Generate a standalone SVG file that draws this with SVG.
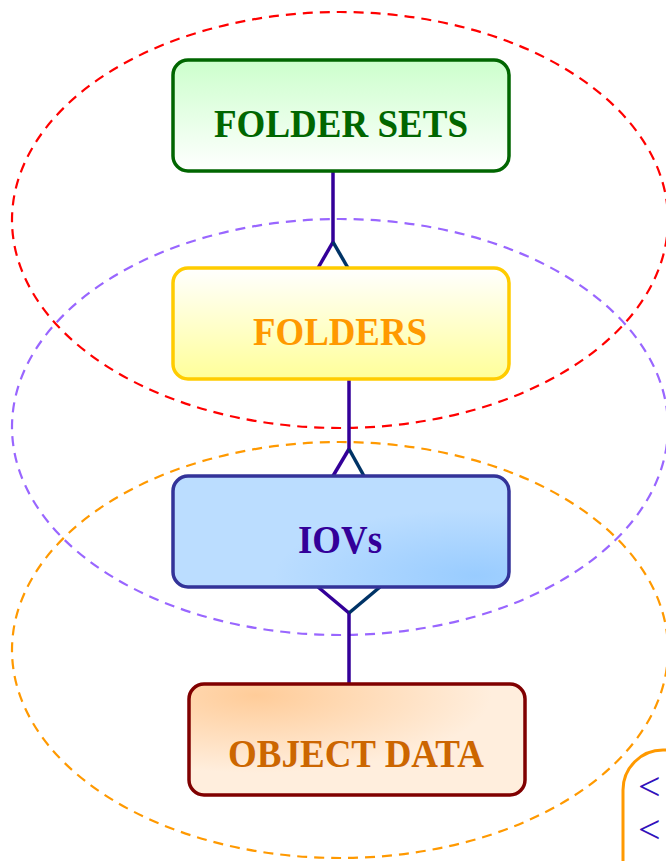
<svg xmlns="http://www.w3.org/2000/svg" width="666" height="861" viewBox="0 0 666 861">
<style>
.lbl{font-family:"Liberation Serif","Times New Roman",serif;font-weight:bold;font-size:40px;text-anchor:start}
.ell{fill:none;stroke-width:2.2;stroke-dasharray:10 7}
.box{stroke-width:3.5}
.conn{stroke-width:3.5;fill:none;stroke-linecap:butt}
.code{font-family:"Liberation Serif","Times New Roman",serif;font-size:40px;fill:#3311bb}
</style>
<defs>
<linearGradient id="gGreen" x1="0" y1="0" x2="0" y2="1"><stop offset="0" stop-color="#ccffcc"/><stop offset="1" stop-color="#ffffff"/></linearGradient>
<linearGradient id="gYellow" x1="0" y1="0" x2="0" y2="1"><stop offset="0" stop-color="#ffffff"/><stop offset="1" stop-color="#ffff99"/></linearGradient>
<radialGradient id="gBlue" cx="0.9" cy="0.9" r="1"><stop offset="0" stop-color="#99ccff"/><stop offset="0.6" stop-color="#bbddff"/><stop offset="1" stop-color="#bbddff"/></radialGradient>
<radialGradient id="gOrange" cx="0.2" cy="0.1" r="1"><stop offset="0" stop-color="#ffcc99"/><stop offset="0.7" stop-color="#ffeedd"/><stop offset="1" stop-color="#ffeedd"/></radialGradient>
</defs>
<g id="groups">
<ellipse class="ell" cx="340" cy="220" rx="328" ry="208" stroke="#ff0000"/>
<ellipse class="ell" cx="340" cy="427" rx="328" ry="208" stroke="#9966ff"/>
<ellipse class="ell" cx="340" cy="650" rx="328" ry="208" stroke="#ff9900"/>
</g>
<g id="connectors">
<line class="conn" x1="333" y1="171" x2="333" y2="242" stroke="#330099"/>
<line class="conn" x1="333" y1="242" x2="318" y2="268" stroke="#330099"/>
<line class="conn" x1="333" y1="242" x2="348" y2="268" stroke="#003366"/>
<line class="conn" x1="349" y1="379" x2="349" y2="449" stroke="#330099"/>
<line class="conn" x1="349" y1="449" x2="333" y2="476" stroke="#330099"/>
<line class="conn" x1="349" y1="449" x2="364" y2="476" stroke="#003366"/>
<line class="conn" x1="349" y1="613" x2="349" y2="684" stroke="#330099"/>
<line class="conn" x1="349" y1="613" x2="318" y2="587" stroke="#330099"/>
<line class="conn" x1="349" y1="613" x2="380" y2="587" stroke="#003366"/>
</g>
<g id="folder-sets">
<rect class="box" x="173" y="60" width="336" height="111" rx="15" fill="url(#gGreen)" stroke="#006600"/>
<text class="lbl" x="214" y="137" fill="#006600" textLength="254" lengthAdjust="spacingAndGlyphs">FOLDER SETS</text>
</g>
<g id="folders">
<rect class="box" x="173" y="268" width="336" height="111" rx="15" fill="url(#gYellow)" stroke="#ffcc00"/>
<text class="lbl" x="253" y="345" fill="#ff9900" textLength="174" lengthAdjust="spacingAndGlyphs">FOLDERS</text>
</g>
<g id="iovs">
<rect class="box" x="173" y="476" width="336" height="111" rx="15" fill="url(#gBlue)" stroke="#333399"/>
<text class="lbl" x="298" y="553" fill="#330099" textLength="84" lengthAdjust="spacingAndGlyphs">IOVs</text>
</g>
<g id="object-data">
<rect class="box" x="189" y="684" width="336" height="111" rx="15" fill="url(#gOrange)" stroke="#800000"/>
<text class="lbl" x="228" y="767" fill="#cc6600" textLength="256" lengthAdjust="spacingAndGlyphs">OBJECT DATA</text>
</g>
<g id="code-box">
<rect x="623" y="750" width="200" height="200" rx="40" fill="#ffffff" stroke="#ff9900" stroke-width="3"/>
<text class="code" x="638" y="800">&lt;</text>
<text class="code" x="638" y="843">&lt;</text>
</g>
</svg>
